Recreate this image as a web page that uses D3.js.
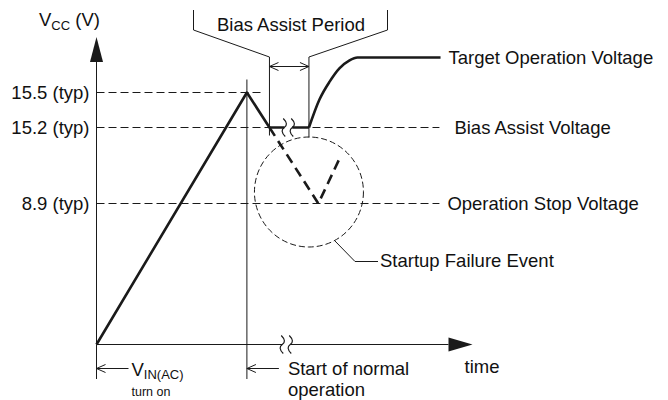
<!DOCTYPE html>
<html>
<head>
<meta charset="utf-8">
<script src="https://cdn.jsdelivr.net/npm/d3@7"></script>
<style>
  body { margin: 0; background: #fff; }
  text { font-family: "Liberation Sans", Arial, sans-serif; fill: #111; }
</style>
</head>
<body>
<div id="chart"></div>
<script>
// schematic levels (V)
let levelValues = [15.5, 15.2, 8.9];
let levelLabels = ["15.5 (typ)", "15.2 (typ)", "8.9 (typ)"];
let targetVoltage = 16.5;
let vMax = 17;

// schematic time, arbitrary units
let tPeak = 4.0, tBiasStart = 4.6, tBreak = 5.1, tBiasEnd = 5.65, tEnd = 10;

let rampUp = [[0, 0], [4.0, 15.5], [4.6, 15.2]];
let biasHold = [[4.6, 15.2], [5.65, 15.2]];
let recovery = [[5.65, 15.2], [5.93, 15.44], [6.2, 15.81], [6.46, 16.19], [6.73, 16.42], [6.94, 16.5], [9.15, 16.5]];
let failure = [[4.6, 15.2], [5.9, 8.9], [6.46, 12.6]];

// dashed reference lines: [voltage, end time]
let refLines = [[15.5, 4.41], [15.2, 9.12], [8.9, 9.12]];
let sideLabels = ["Target Operation Voltage", "Bias Assist Voltage", "Operation Stop Voltage"];

let width = 668, height = 400;
let fs = 18.5;

let svg = d3.select("#chart").append("svg")
	.attr("width", width)
	.attr("height", height);

let x = d3.scaleLinear().domain([0, tEnd]).range([96.5, 472.5]);
// piecewise scale, the drawing is not to scale
let y = d3.scaleLinear()
	.domain([0, 8.9, 15.2, 15.5, targetVoltage, vMax])
	.range([344.5, 203.5, 127.5, 92.5, 57.5, 37]);

let line = d3.line().x(d => x(d[0])).y(d => y(d[1]));
let ink = "#1a1a1a";

// reference dashed lines
svg.selectAll(".ref")
	.data(refLines)
	.enter().append("line")
	.attr("class", "ref")
	.attr("x1", x(0)).attr("x2", d => x(d[1]))
	.attr("y1", d => y(d[0])).attr("y2", d => y(d[0]))
	.attr("stroke", ink).attr("stroke-width", 1)
	.attr("stroke-dasharray", "8,4");

// level labels
svg.selectAll(".lvl")
	.data(levelValues)
	.enter().append("text")
	.attr("x", x(0) - 7)
	.attr("y", d => y(d))
	.attr("dy", "0.35em")
	.attr("text-anchor", "end")
	.attr("font-size", fs)
	.text((d, i) => levelLabels[i]);

// axes
svg.append("line")
	.attr("x1", x(0)).attr("x2", x(0))
	.attr("y1", y(0)).attr("y2", y(vMax) + 24)
	.attr("stroke", ink).attr("stroke-width", 1);
svg.append("path")
	.attr("d", `M${x(0)},${y(vMax)} L${x(0) - 6.5},${y(vMax) + 25} L${x(0) + 6.5},${y(vMax) + 25} Z`)
	.attr("fill", ink);
svg.append("line")
	.attr("x1", x(0)).attr("x2", x(tEnd) - 24)
	.attr("y1", y(0)).attr("y2", y(0))
	.attr("stroke", ink).attr("stroke-width", 1);
svg.append("path")
	.attr("d", `M${x(tEnd)},${y(0)} L${x(tEnd) - 24},${y(0) - 7} L${x(tEnd) - 24},${y(0) + 7} Z`)
	.attr("fill", ink);

// axis titles
let vcc = svg.append("text").attr("x", 39).attr("y", 26).attr("font-size", fs);
vcc.append("tspan").text("V");
vcc.append("tspan").attr("font-size", 13).attr("dy", 4).text("CC");
vcc.append("tspan").attr("dy", -4).text(" (V)");

svg.append("text")
	.attr("x", x(tEnd) - 8).attr("y", 373)
	.attr("font-size", fs)
	.text("time");

// vertical markers
let markers = [
	[tPeak, y(15.5) - 13, 379],
	[tBiasStart, 57, y(15.2) + 8],
	[tBiasEnd, 57, y(15.2) + 10],
	[0, y(0), 379]
];
svg.selectAll(".mk")
	.data(markers)
	.enter().append("line")
	.attr("x1", d => x(d[0])).attr("x2", d => x(d[0]))
	.attr("y1", d => d[1]).attr("y2", d => d[2])
	.attr("stroke", ink).attr("stroke-width", 1);

// failure circle
svg.append("ellipse")
	.attr("cx", x(tBiasEnd)).attr("cy", 192)
	.attr("rx", 54.5).attr("ry", 55)
	.attr("fill", "none").attr("stroke", ink).attr("stroke-width", 1)
	.attr("stroke-dasharray", "6,3");

// failure path
svg.append("path")
	.attr("d", line(failure))
	.attr("fill", "none").attr("stroke", ink).attr("stroke-width", 2.6)
	.attr("stroke-dasharray", "10,6");

// waveform
svg.append("path")
	.attr("d", line(rampUp))
	.attr("fill", "none").attr("stroke", ink).attr("stroke-width", 2.6)
	.attr("stroke-linejoin", "round");
svg.append("path")
	.attr("d", line(biasHold))
	.attr("fill", "none").attr("stroke", ink).attr("stroke-width", 2.6);
svg.append("path")
	.attr("d", line.curve(d3.curveMonotoneX)(recovery))
	.attr("fill", "none").attr("stroke", ink).attr("stroke-width", 2.6);
line.curve(d3.curveLinear);

// break marks
function breakMark(cx, cy, h) {
	svg.append("rect")
		.attr("x", cx - 4).attr("y", cy - 4).attr("width", 8).attr("height", 8)
		.attr("fill", "#fff");
	[-4, 4].forEach(o => {
		let s = h / 9;
		svg.append("path")
			.attr("d", `M${cx + o - 1},${cy - 9 * s} C${cx + o + 3},${cy - 5 * s} ${cx + o + 3},${cy - 2 * s} ${cx + o},${cy}` +
				` C${cx + o - 3},${cy + 2 * s} ${cx + o - 3},${cy + 5 * s} ${cx + o + 1},${cy + 9 * s}`)
			.attr("fill", "none").attr("stroke", ink).attr("stroke-width", 1.2);
	});
}
breakMark(x(tBreak), y(15.2), 9);
breakMark(x(tBreak) - 2, y(0), 9);

// right side labels
let sideY = [targetVoltage, 15.2, 8.9];
let sideX = [9.15, 9.12, 9.12];
svg.selectAll(".side")
	.data(sideLabels)
	.enter().append("text")
	.attr("x", (d, i) => x(sideX[i]) + (i == 1 ? 15 : 8))
	.attr("y", (d, i) => y(sideY[i]))
	.attr("dy", "0.35em")
	.attr("font-size", fs)
	.text(d => d);

// bias assist period bracket
let bx1 = x(tBiasStart), bx2 = x(tBiasEnd);
svg.append("path")
	.attr("d", `M193.5,10 L193.5,30 L${bx1},57 M387.5,10 L387.5,30 L${bx2},57`)
	.attr("fill", "none").attr("stroke", ink).attr("stroke-width", 1);
svg.append("text")
	.attr("x", 291).attr("y", 31)
	.attr("text-anchor", "middle")
	.attr("font-size", fs)
	.text("Bias Assist Period");

// arrows
function openArrow(x1, x2, yy, both) {
	svg.append("line")
		.attr("x1", x1).attr("x2", x2).attr("y1", yy).attr("y2", yy)
		.attr("stroke", ink).attr("stroke-width", 1);
	svg.append("path")
		.attr("d", `M${x1 + 9},${yy - 4} L${x1},${yy} L${x1 + 9},${yy + 4}` +
			(both ? ` M${x2 - 9},${yy - 4} L${x2},${yy} L${x2 - 9},${yy + 4}` : ""))
		.attr("fill", "none").attr("stroke", ink).attr("stroke-width", 1);
}
openArrow(bx1, bx2, 66.5, true);
openArrow(x(0), x(0) + 32, 368.5, false);
openArrow(x(tPeak), x(tPeak) + 32, 368.5, false);

// startup failure leader
svg.append("path")
	.attr("d", "M335,241 L355,261.5 L378,261.5")
	.attr("fill", "none").attr("stroke", ink).attr("stroke-width", 1);
svg.append("text")
	.attr("x", 380).attr("y", 261).attr("dy", "0.35em")
	.attr("font-size", fs)
	.text("Startup Failure Event");

// bottom labels
let vin = svg.append("text").attr("x", x(0) + 35).attr("y", 376).attr("font-size", fs);
vin.append("tspan").text("V");
vin.append("tspan").attr("font-size", 13).attr("dy", 3).text("IN(AC)");
svg.append("text")
	.attr("x", x(0) + 35).attr("y", 396)
	.attr("font-size", 12.5)
	.text("turn on");

svg.append("text")
	.attr("x", x(tPeak) + 41).attr("y", 375)
	.attr("font-size", fs)
	.text("Start of normal");
svg.append("text")
	.attr("x", x(tPeak) + 41).attr("y", 396)
	.attr("font-size", fs)
	.text("operation");
</script>
</body>
</html>
